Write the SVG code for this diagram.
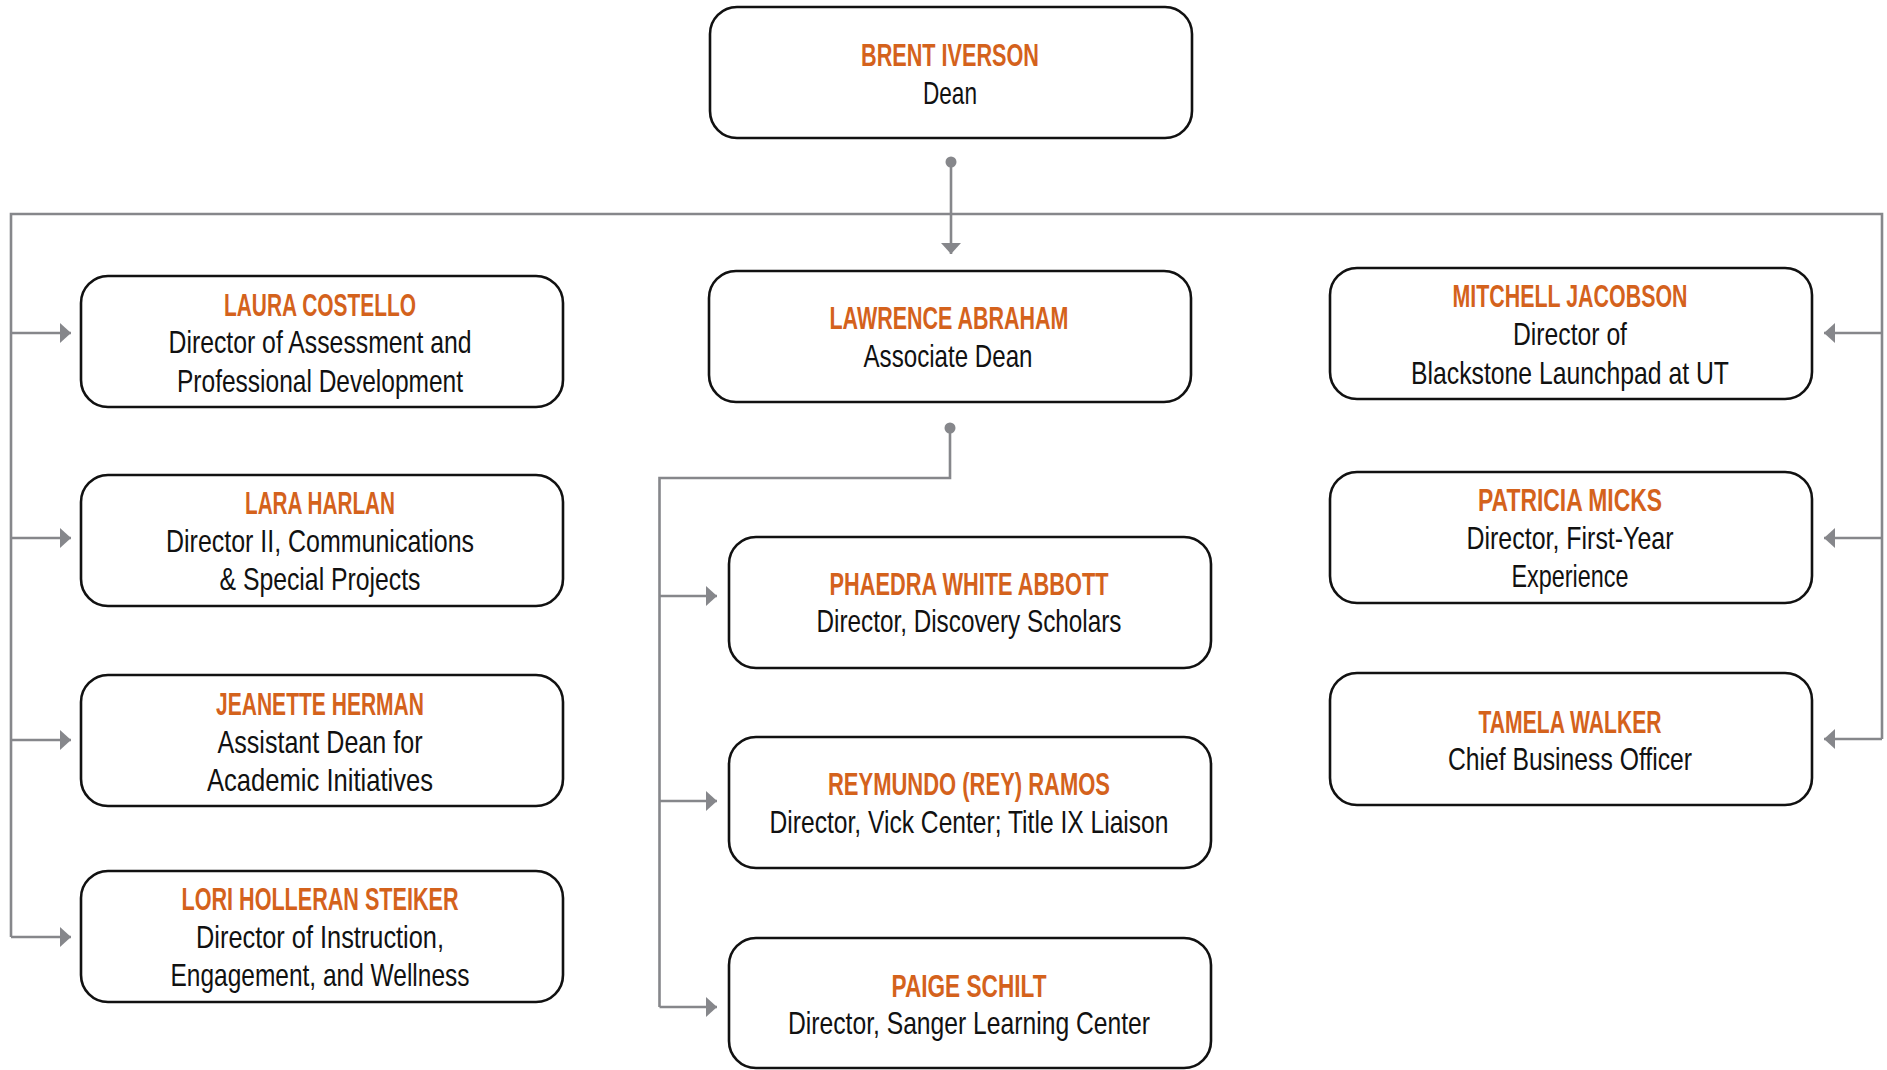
<svg xmlns="http://www.w3.org/2000/svg" width="1887" height="1070" viewBox="0 0 1887 1070">
<style>
.box{fill:#fff;stroke:#111;stroke-width:2.6}
.nm{font-family:"Liberation Sans Narrow","Liberation Sans",Arial,sans-serif;font-weight:bold;font-size:30.5px;fill:#D4621C;text-anchor:middle}
.tt{font-family:"Liberation Sans Narrow","Liberation Sans",Arial,sans-serif;font-size:30.5px;fill:#111;text-anchor:middle}
.cn{fill:none;stroke:#86878b;stroke-width:2.6}
</style>
<defs>
<marker id="ah" markerUnits="userSpaceOnUse" markerWidth="12" markerHeight="20" refX="11" refY="10" orient="auto" viewBox="0 0 12 20">
<path d="M0,0 L11,10 L0,20 Z" fill="#86878b"/>
</marker>
<marker id="dot" markerUnits="userSpaceOnUse" markerWidth="12" markerHeight="12" refX="6" refY="6" viewBox="0 0 12 12">
<circle cx="6" cy="6" r="5.5" fill="#86878b"/>
</marker>
</defs>
<rect width="1887" height="1070" fill="#fff"/>
<g id="connectors">
<path class="cn" d="M951,162 V254" marker-start="url(#dot)" marker-end="url(#ah)"/>
<path class="cn" d="M11,937 V214 H1882 V739"/>
<path class="cn" d="M11,333 H71" marker-end="url(#ah)"/>
<path class="cn" d="M11,538 H71" marker-end="url(#ah)"/>
<path class="cn" d="M11,740 H71" marker-end="url(#ah)"/>
<path class="cn" d="M11,937 H71" marker-end="url(#ah)"/>
<path class="cn" d="M1882,333 H1824" marker-end="url(#ah)"/>
<path class="cn" d="M1882,538 H1824" marker-end="url(#ah)"/>
<path class="cn" d="M1882,739 H1824" marker-end="url(#ah)"/>
<path class="cn" d="M950,428 V478 H659.5 V1007" marker-start="url(#dot)"/>
<path class="cn" d="M659.5,596 H717" marker-end="url(#ah)"/>
<path class="cn" d="M659.5,801 H717" marker-end="url(#ah)"/>
<path class="cn" d="M659.5,1007 H717" marker-end="url(#ah)"/>
</g>
<g id="n-iverson">
<rect class="box" x="710" y="7" width="482" height="131" rx="27"/>
<text class="nm" x="950" y="66" textLength="178" lengthAdjust="spacingAndGlyphs">BRENT IVERSON</text>
<text class="tt" x="950" y="104" textLength="54" lengthAdjust="spacingAndGlyphs">Dean</text>
</g>
<g id="n-abraham">
<rect class="box" x="709" y="271" width="482" height="131" rx="27"/>
<text class="nm" x="949" y="329" textLength="239" lengthAdjust="spacingAndGlyphs">LAWRENCE ABRAHAM</text>
<text class="tt" x="948" y="367" textLength="169" lengthAdjust="spacingAndGlyphs">Associate Dean</text>
</g>
<g id="n-costello">
<rect class="box" x="81" y="276" width="482" height="131" rx="27"/>
<text class="nm" x="320" y="316" textLength="192" lengthAdjust="spacingAndGlyphs">LAURA COSTELLO</text>
<text class="tt" x="320" y="353" textLength="303" lengthAdjust="spacingAndGlyphs">Director of Assessment and</text>
<text class="tt" x="320" y="392" textLength="286" lengthAdjust="spacingAndGlyphs">Professional Development</text>
</g>
<g id="n-harlan">
<rect class="box" x="81" y="475" width="482" height="131" rx="27"/>
<text class="nm" x="320" y="514" textLength="150" lengthAdjust="spacingAndGlyphs">LARA HARLAN</text>
<text class="tt" x="320" y="552" textLength="308" lengthAdjust="spacingAndGlyphs">Director II, Communications</text>
<text class="tt" x="320" y="590" textLength="201" lengthAdjust="spacingAndGlyphs">&amp; Special Projects</text>
</g>
<g id="n-herman">
<rect class="box" x="81" y="675" width="482" height="131" rx="27"/>
<text class="nm" x="320" y="715" textLength="208" lengthAdjust="spacingAndGlyphs">JEANETTE HERMAN</text>
<text class="tt" x="320" y="753" textLength="205" lengthAdjust="spacingAndGlyphs">Assistant Dean for</text>
<text class="tt" x="320" y="791" textLength="226" lengthAdjust="spacingAndGlyphs">Academic Initiatives</text>
</g>
<g id="n-steiker">
<rect class="box" x="81" y="871" width="482" height="131" rx="27"/>
<text class="nm" x="320" y="910" textLength="277" lengthAdjust="spacingAndGlyphs">LORI HOLLERAN STEIKER</text>
<text class="tt" x="320" y="948" textLength="248" lengthAdjust="spacingAndGlyphs">Director of Instruction,</text>
<text class="tt" x="320" y="986" textLength="299" lengthAdjust="spacingAndGlyphs">Engagement, and Wellness</text>
</g>
<g id="n-abbott">
<rect class="box" x="729" y="537" width="482" height="131" rx="27"/>
<text class="nm" x="969" y="595" textLength="279" lengthAdjust="spacingAndGlyphs">PHAEDRA WHITE ABBOTT</text>
<text class="tt" x="969" y="632" textLength="305" lengthAdjust="spacingAndGlyphs">Director, Discovery Scholars</text>
</g>
<g id="n-ramos">
<rect class="box" x="729" y="737" width="482" height="131" rx="27"/>
<text class="nm" x="969" y="795" textLength="282" lengthAdjust="spacingAndGlyphs">REYMUNDO (REY) RAMOS</text>
<text class="tt" x="969" y="833" textLength="399" lengthAdjust="spacingAndGlyphs">Director, Vick Center; Title IX Liaison</text>
</g>
<g id="n-schilt">
<rect class="box" x="729" y="938" width="482" height="130" rx="27"/>
<text class="nm" x="969" y="997" textLength="155" lengthAdjust="spacingAndGlyphs">PAIGE SCHILT</text>
<text class="tt" x="969" y="1034" textLength="362" lengthAdjust="spacingAndGlyphs">Director, Sanger Learning Center</text>
</g>
<g id="n-jacobson">
<rect class="box" x="1330" y="268" width="482" height="131" rx="27"/>
<text class="nm" x="1570" y="307" textLength="235" lengthAdjust="spacingAndGlyphs">MITCHELL JACOBSON</text>
<text class="tt" x="1570" y="345" textLength="114" lengthAdjust="spacingAndGlyphs">Director of</text>
<text class="tt" x="1570" y="384" textLength="318" lengthAdjust="spacingAndGlyphs">Blackstone Launchpad at UT</text>
</g>
<g id="n-micks">
<rect class="box" x="1330" y="472" width="482" height="131" rx="27"/>
<text class="nm" x="1570" y="511" textLength="184" lengthAdjust="spacingAndGlyphs">PATRICIA MICKS</text>
<text class="tt" x="1570" y="549" textLength="207" lengthAdjust="spacingAndGlyphs">Director, First-Year</text>
<text class="tt" x="1570" y="587" textLength="117" lengthAdjust="spacingAndGlyphs">Experience</text>
</g>
<g id="n-walker">
<rect class="box" x="1330" y="673" width="482" height="132" rx="27"/>
<text class="nm" x="1570" y="733" textLength="183" lengthAdjust="spacingAndGlyphs">TAMELA WALKER</text>
<text class="tt" x="1570" y="770" textLength="244" lengthAdjust="spacingAndGlyphs">Chief Business Officer</text>
</g>
</svg>
